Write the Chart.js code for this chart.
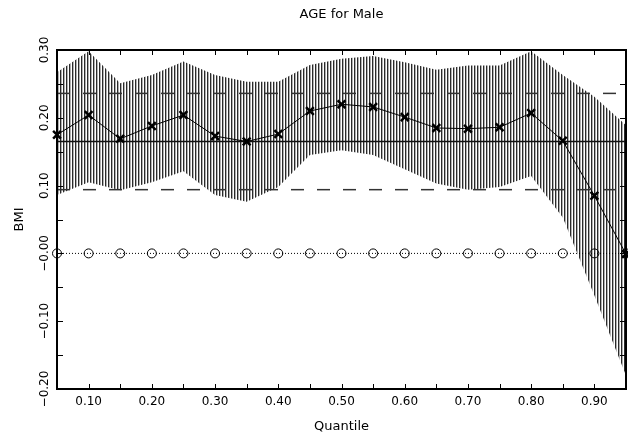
<!DOCTYPE html>
<html>
<head>
<meta charset="utf-8">
<script src="https://cdn.jsdelivr.net/npm/chart.js@4.4.1/dist/chart.umd.min.js"></script>
<style>
  body{ margin:0; background:#fff; }
  canvas{ display:block; }
</style>
</head>
<body>
<canvas id="chart" width="628" height="439"></canvas>
<script>
// quantile grid and the values
const quantiles = [0.05, 0.10, 0.15, 0.20, 0.25, 0.30, 0.35, 0.40, 0.45, 0.50,
                   0.55, 0.60, 0.65, 0.70, 0.75, 0.80, 0.85, 0.90, 0.95];

const estimate = [0.175, 0.204, 0.169, 0.188, 0.204, 0.173, 0.165, 0.176, 0.210, 0.220,
                  0.216, 0.201, 0.185, 0.184, 0.186, 0.207, 0.166, 0.085, -0.001];

const bandUpper = [0.267, 0.298, 0.251, 0.263, 0.283, 0.263, 0.253, 0.253, 0.278, 0.287,
                   0.291, 0.282, 0.271, 0.277, 0.277, 0.298, 0.263, 0.231, 0.189];

const bandLower = [0.086, 0.105, 0.093, 0.105, 0.121, 0.086, 0.076, 0.098, 0.145, 0.152,
                   0.145, 0.124, 0.103, 0.094, 0.098, 0.114, 0.053, -0.062, -0.180];

const zeroRef = [0, 0, 0, 0, 0, 0, 0, 0, 0, 0, 0, 0, 0, 0, 0, 0, 0, 0, 0];

const meanValue = 0.165;
const ciUpper = 0.236;
const ciLower = 0.094;

const xTickValues = [0.10, 0.20, 0.30, 0.40, 0.50, 0.60, 0.70, 0.80, 0.90];
const xTickLabels = ["0.10", "0.20", "0.30", "0.40", "0.50", "0.60", "0.70", "0.80", "0.90"];
const xMarkValues = [0.10, 0.15, 0.20, 0.25, 0.30, 0.35, 0.40, 0.45, 0.50,
                     0.55, 0.60, 0.65, 0.70, 0.75, 0.80, 0.85, 0.90];

const yTickValues = [-0.20, -0.10, 0.00, 0.10, 0.20, 0.30];
const yTickLabels = ["\u22120.20", "\u22120.10", "\u22120.00", "0.10", "0.20", "0.30"];
const yMarkValues = [-0.15, -0.10, -0.05, 0.00, 0.05, 0.10, 0.15, 0.20, 0.25];

function pts(ys){
    return ys.map((y, i) => ({x: quantiles[i], y: y}));
}

function flat(v){
    return [{x: quantiles[0], y: v}, {x: quantiles[quantiles.length - 1], y: v}];
}

function hatch(){
    const c = document.createElement("canvas");
    c.width = 3; c.height = 1;
    const g = c.getContext("2d");
    g.fillStyle = "#2a2a2a"; g.fillRect(0, 0, 1, 1);
    g.fillStyle = "#b0b0b0"; g.fillRect(1, 0, 1, 1);
    return g.createPattern(c, "repeat");
}

const FONT = "'DejaVu Sans', sans-serif";

const frame = {
    id: "frame",
    afterDraw(chart){
        const {ctx, chartArea: a, scales} = chart;
        const xs = scales.x, ys = scales.y;
        ctx.save();
        ctx.strokeStyle = "#000";
        ctx.lineWidth = 1;
        ctx.beginPath();
        xMarkValues.forEach(v => {
            const px = Math.round(xs.getPixelForValue(v)) + 0.5;
            ctx.moveTo(px, a.bottom); ctx.lineTo(px, a.bottom - 5);
            ctx.moveTo(px, a.top); ctx.lineTo(px, a.top + 5);
        });
        yMarkValues.forEach(v => {
            const py = Math.round(ys.getPixelForValue(v)) + 0.5;
            ctx.moveTo(a.left, py); ctx.lineTo(a.left + 6, py);
            ctx.moveTo(a.right, py); ctx.lineTo(a.right - 6, py);
        });
        ctx.stroke();
        ctx.lineWidth = 2;
        ctx.strokeRect(a.left, a.top, a.right - a.left, a.bottom - a.top);

        // rotated y tick labels
        ctx.fillStyle = "#000";
        ctx.font = "12px " + FONT;
        ctx.textAlign = "center";
        ctx.textBaseline = "middle";
        yTickValues.forEach((v, i) => {
            const py = ys.getPixelForValue(v);
            ctx.save();
            ctx.translate(45, py);
            ctx.rotate(-Math.PI / 2);
            ctx.fillText(yTickLabels[i], 0, 0);
            ctx.restore();
        });

        // title over the plot area
        ctx.font = "13px " + FONT;
        ctx.fillText("AGE for Male", (a.left + a.right) / 2, 15);
        ctx.restore();
    }
};

new Chart(document.getElementById("chart"), {
    type: "line",
    data: {
        datasets: [
            {
                label: "upper",
                data: pts(bandUpper),
                borderWidth: 0,
                pointRadius: 0,
                fill: "+1",
                backgroundColor: hatch(),
                order: 10
            },
            {
                label: "lower",
                data: pts(bandLower),
                borderWidth: 0,
                pointRadius: 0,
                fill: false,
                order: 10
            },
            {
                label: "estimate",
                data: pts(estimate),
                borderColor: "#000",
                borderWidth: 1,
                pointStyle: "crossRot",
                pointRadius: 5.5,
                pointBorderWidth: 2.5,
                pointBorderColor: "#000",
                clip: false,
                order: 0
            },
            {
                label: "mean",
                data: flat(meanValue),
                borderColor: "#111",
                borderWidth: 1.5,
                pointRadius: 0,
                order: 1
            },
            {
                label: "ci upper",
                data: flat(ciUpper),
                borderColor: "#333",
                borderWidth: 1.5,
                borderDash: [13, 13],
                pointRadius: 0,
                order: 1
            },
            {
                label: "ci lower",
                data: flat(ciLower),
                borderColor: "#333",
                borderWidth: 1.5,
                borderDash: [13, 13],
                pointRadius: 0,
                order: 1
            },
            {
                label: "zero",
                data: pts(zeroRef),
                borderColor: "#000",
                borderWidth: 1,
                borderDash: [1, 2],
                pointStyle: "circle",
                pointRadius: 4.5,
                pointBorderWidth: 1,
                pointBorderColor: "#000",
                pointBackgroundColor: "rgba(0,0,0,0)",
                clip: false,
                order: 2
            }
        ]
    },
    options: {
        responsive: false,
        animation: false,
        layout: { autoPadding: false, padding: { top: 50, right: 2, left: 0, bottom: 0 } },
        plugins: {
            legend: { display: false },
            tooltip: { enabled: false }
        },
        scales: {
            x: {
                type: "linear",
                min: 0.05,
                max: 0.95,
                grid: { display: false, drawTicks: false },
                border: { display: false },
                afterBuildTicks: s => { s.ticks = xTickValues.map(v => ({value: v})); },
                afterFit: s => { s.height = 50; s.paddingLeft = 0; s.paddingRight = 0; },
                ticks: {
                    autoSkip: false,
                    maxRotation: 0,
                    padding: 6,
                    color: "#000",
                    font: { family: FONT, size: 12 },
                    callback: (v, i) => xTickLabels[i]
                },
                title: {
                    display: true,
                    text: "Quantile",
                    color: "#000",
                    font: { family: FONT, size: 13 },
                    padding: { top: 0, bottom: 5 }
                }
            },
            y: {
                type: "linear",
                min: -0.2,
                max: 0.3,
                grid: { display: false, drawTicks: false },
                border: { display: false },
                afterFit: s => { s.width = 57; },
                ticks: { display: false },
                title: {
                    display: true,
                    text: "BMI",
                    color: "#000",
                    font: { family: FONT, size: 13 },
                    padding: { top: 12, bottom: 0 }
                }
            }
        }
    },
    plugins: [frame]
});
</script>
</body>
</html>
